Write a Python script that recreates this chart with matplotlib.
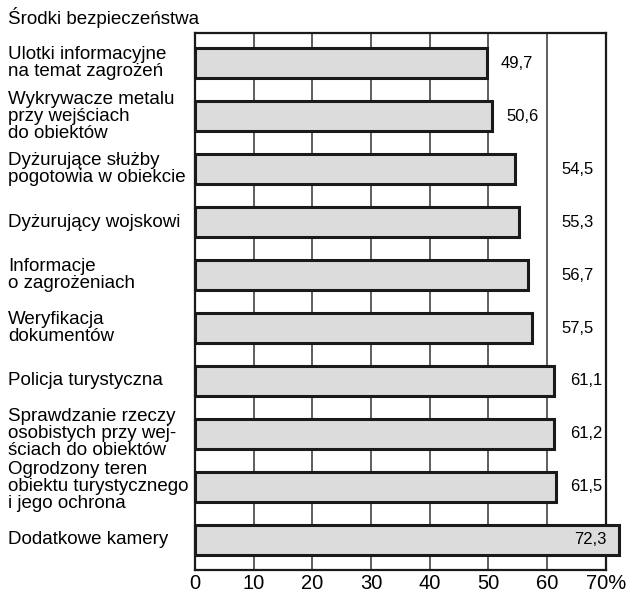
import matplotlib.pyplot as plt
import matplotlib.transforms as mtransforms

# ── dane ─────────────────────────────────────────────────────────────────────
labels = [
    'Ulotki informacyjne\nna temat zagrożeń',
    'Wykrywacze metalu\nprzy wejściach\ndo obiektów',
    'Dyżurujące służby\npogotowia w obiekcie',
    'Dyżurujący wojskowi',
    'Informacje\no zagrożeniach',
    'Weryfikacja\ndokumentów',
    'Policja turystyczna',
    'Sprawdzanie rzeczy\nosobistych przy wej-\nściach do obiektów',
    'Ogrodzony teren\nobiektu turystycznego\ni jego ochrona',
    'Dodatkowe kamery',
]
values = [49.7, 50.6, 54.5, 55.3, 56.7, 57.5, 61.1, 61.2, 61.5, 72.3]
xticks = [0, 10, 20, 30, 40, 50, 60, 70]
xticklabels = ['0', '10', '20', '30', '40', '50', '60', '70%']

plt.rcParams['font.family'] = ['Liberation Sans', 'DejaVu Sans']

fig = plt.figure(figsize=(6.31, 5.93), dpi=100)
ax = fig.add_axes([0.309, 0.039, 0.651, 0.905])

ypos = list(range(len(values)))
ax.barh(ypos, values, height=0.57, color='#dcdcdc', edgecolor='#1a1a1a',
        linewidth=2.2, zorder=3, clip_on=False)

ax.set_xlim(0, 70)
ax.set_ylim(len(values) - 0.43, -0.57)
ax.set_xticks(xticks)
ax.set_xticklabels(xticklabels, fontsize=14.5)
ax.set_yticks([])
ax.tick_params(axis='x', length=0, pad=3)
ax.xaxis.grid(True, color='#333333', linewidth=1.1, zorder=0)
ax.set_axisbelow(True)
for s in ax.spines.values():
    s.set_linewidth(1.6)
    s.set_color('#1a1a1a')

# etykiety kategorii (wyrównane do lewej krawędzi rysunku)
trans = mtransforms.blended_transform_factory(fig.transFigure, ax.transData)
for y, lab in zip(ypos, labels):
    ax.text(8 / 631, y, lab, transform=trans, ha='left', va='center',
            fontsize=13.5, linespacing=1.0)

# wartości
for y, v in zip(ypos, values):
    txt = f'{v:.1f}'.replace('.', ',')
    if v < 52:
        ax.text(v + 2.4, y, txt, ha='left', va='center', fontsize=12)
    elif v < 60:
        ax.text(62.4, y, txt, ha='left', va='center', fontsize=12)
    elif v < 70:
        ax.text(63.9, y, txt, ha='left', va='center', fontsize=12)
    else:
        ax.text(70.2, y, txt, ha='right', va='center', fontsize=12, zorder=5)

fig.text(8 / 631, 1 - 18 / 593, 'Środki bezpieczeństwa', ha='left',
         va='center', fontsize=13.5)

plt.savefig('out.png', dpi=100)
